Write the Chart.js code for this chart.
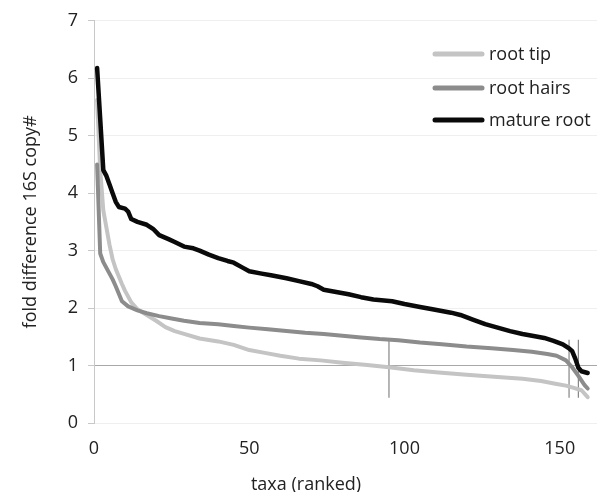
<!DOCTYPE html>
<html>
<head>
<meta charset="utf-8">
<script src="https://cdn.jsdelivr.net/npm/chart.js@4/dist/chart.umd.min.js"></script>
<style>
  body { margin: 0; background: #fff; }
  #wrap { width: 609px; height: 492px; position: relative; }
</style>
</head>
<body>
<div id="wrap"><canvas id="foldChart"></canvas></div>
<script>
// ---------------------------------------------
// data: [rank, fold difference]
// ---------------------------------------------
const rootTip = [
  [1, 5.62], [2, 4.4], [3, 3.7], [4, 3.4], [5, 3.1], [6, 2.85], [7, 2.68], [8, 2.55],
  [9, 2.42], [10, 2.3], [12, 2.1], [14, 1.98], [17, 1.88], [20, 1.78], [23, 1.67],
  [26, 1.6], [29, 1.55], [34, 1.47], [40, 1.42], [45, 1.36], [50, 1.27], [55, 1.22],
  [60, 1.17], [66, 1.12], [73, 1.09], [80, 1.05], [88, 1.01], [95, 0.97], [103, 0.92],
  [111, 0.88], [120, 0.84], [130, 0.8], [138, 0.77], [144, 0.73], [149, 0.68],
  [152, 0.65], [154, 0.62], [157, 0.57], [159, 0.45]
];

const rootHairs = [
  [1, 4.5], [2, 2.95], [3, 2.8], [5, 2.6], [6, 2.5], [7, 2.38], [8, 2.25], [9, 2.12],
  [11, 2.03], [14, 1.96], [17, 1.91], [21, 1.86], [25, 1.82], [29, 1.78], [34, 1.74],
  [40, 1.72], [45, 1.69], [50, 1.66], [56, 1.63], [62, 1.6], [68, 1.57], [74, 1.55],
  [80, 1.52], [86, 1.49], [92, 1.46], [98, 1.44], [105, 1.4], [112, 1.37], [120, 1.33],
  [128, 1.3], [135, 1.27], [141, 1.24], [146, 1.2], [149, 1.17], [152, 1.09],
  [154, 0.97], [156, 0.82], [158, 0.66], [159, 0.6]
];

const matureRoot = [
  [1, 6.18], [3, 4.4], [4, 4.3], [5, 4.15], [6, 4.0], [7, 3.85], [8, 3.76], [10, 3.73],
  [11, 3.68], [12, 3.55], [14, 3.5], [17, 3.45], [19, 3.38], [21, 3.27], [24, 3.2],
  [26, 3.15], [29, 3.07], [32, 3.04], [34, 3.0], [37, 2.93], [40, 2.87], [43, 2.82],
  [45, 2.79], [48, 2.7], [50, 2.64], [54, 2.6], [57, 2.57], [62, 2.52], [66, 2.47],
  [70, 2.42], [72, 2.38], [74, 2.32], [78, 2.28], [82, 2.24], [86, 2.19], [90, 2.15],
  [96, 2.12], [100, 2.07], [105, 2.02], [109, 1.98], [115, 1.92], [118, 1.88],
  [122, 1.8], [126, 1.72], [130, 1.66], [134, 1.6], [138, 1.55], [142, 1.51],
  [145, 1.48], [148, 1.43], [151, 1.37], [153, 1.3], [154, 1.25], [155, 1.12],
  [156, 0.96], [157, 0.9], [159, 0.87]
];

// thin vertical marker lines
const markerRanks = [95, 153, 156];
const markerSpan = [0.44, 1.45];

const xTicks = [0, 50, 100, 150];
const yTicks = [0, 1, 2, 3, 4, 5, 6, 7];
const legendOrder = ["root tip", "root hairs", "mature root"];

const FONT = '"Open Sans", "Noto Sans", sans-serif';

function toPoints(arr) {
  return arr.map((p) => ({ x: p[0], y: p[1] }));
}

const curves = [
  { label: "mature root", data: toPoints(matureRoot), borderColor: "#0a0a0a", borderWidth: 4.5 },
  { label: "root hairs", data: toPoints(rootHairs), borderColor: "#8c8c8c", borderWidth: 4 },
  { label: "root tip", data: toPoints(rootTip), borderColor: "#c4c4c4", borderWidth: 4 },
].map((d) => ({
  ...d,
  backgroundColor: d.borderColor,
  pointRadius: 0,
  tension: 0,
  borderJoinStyle: "round",
  borderCapStyle: "round",
}));

const markers = markerRanks.map((r) => ({
  label: "marker",
  data: markerSpan.map((v) => ({ x: r, y: v })),
  borderColor: "#858585",
  borderWidth: 1.2,
  pointRadius: 0,
}));

// legend inside the plot + x title, drawn on the canvas
const overlay = {
  id: "overlay",
  afterDraw(chart) {
    const ctx = chart.ctx;
    ctx.save();
    ctx.font = "18px " + FONT;
    ctx.fillStyle = "#222";
    ctx.textBaseline = "middle";

    const rowY = [54, 88, 120];
    legendOrder.forEach((name, i) => {
      const ds = chart.data.datasets.find((d) => d.label === name);
      ctx.strokeStyle = ds.borderColor;
      ctx.lineWidth = 5;
      ctx.lineCap = "round";
      ctx.beginPath();
      ctx.moveTo(435, rowY[i]);
      ctx.lineTo(482, rowY[i]);
      ctx.stroke();
      ctx.textAlign = "left";
      ctx.fillText(name, 489, rowY[i] + 1);
    });

    ctx.textAlign = "center";
    ctx.fillText("taxa (ranked)", 306, 485);
    ctx.restore();
  },
};

new Chart(document.getElementById("foldChart"), {
  type: "line",
  data: { datasets: [...curves, ...markers] },
  options: {
    responsive: true,
    maintainAspectRatio: false,
    animation: false,
    layout: { padding: { left: 0, right: 12, top: 17, bottom: 0 } },
    plugins: {
      legend: { display: false },
      tooltip: { enabled: false },
    },
    scales: {
      x: {
        type: "linear",
        min: 0,
        max: 162,
        afterBuildTicks: (scale) => {
          scale.ticks = xTicks.map((v) => ({ value: v }));
        },
        afterFit: (scale) => {
          scale.height = 69;
        },
        grid: { display: false, drawTicks: false },
        border: { display: false },
        ticks: {
          padding: 15,
          color: "#222",
          font: { family: FONT, size: 18 },
        },
      },
      y: {
        min: 0,
        max: 7,
        afterBuildTicks: (scale) => {
          scale.ticks = yTicks.map((v) => ({ value: v }));
        },
        afterFit: (scale) => {
          scale.width = 94;
        },
        grid: {
          color: (c) => (c.tick && c.tick.value === 1 ? "#a8a8a8" : "#efefef"),
          lineWidth: 1,
          tickLength: 6,
          tickColor: "#c8c8c8",
        },
        border: { display: true, color: "#c8c8c8", width: 1 },
        ticks: {
          padding: 10,
          color: "#222",
          font: { family: FONT, size: 18 },
        },
        title: {
          display: true,
          text: "fold difference 16S copy#",
          color: "#222",
          font: { family: FONT, size: 18 },
          padding: { top: 20, bottom: 0 },
        },
      },
    },
  },
  plugins: [overlay],
});
</script>
</body>
</html>
